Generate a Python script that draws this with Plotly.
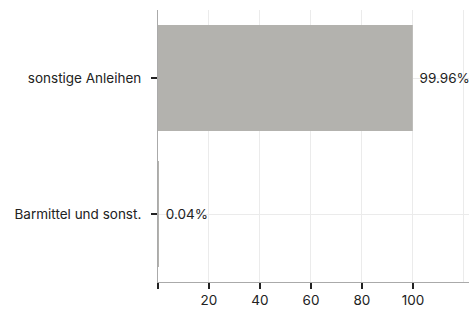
import plotly.graph_objects as go

categories = ["Barmittel und sonst.", "sonstige Anleihen"]
values = [0.04, 99.96]
tick_vals = [0, 20, 40, 60, 80, 100]
tick_text = ["", "20", "40", "60", "80", "100"]

fig = go.Figure(go.Bar(
    y=categories, x=values, orientation="h",
    marker=dict(color="#b3b2ae", line=dict(width=0)),
    width=0.78,
    text=values, texttemplate="\u00a0%{x:.2f}%", textposition="outside",
    textfont=dict(color="#222222", size=13.5),
    cliponaxis=False,
))

fig.update_layout(
    width=469, height=312,
    margin=dict(l=158, r=0, t=10, b=30, autoexpand=False),
    plot_bgcolor="white", paper_bgcolor="white",
    font=dict(family="Inter", size=13.5, color="#222222"),
    showlegend=False,
)
fig.update_xaxes(
    range=[0, 122], tickvals=tick_vals, ticktext=tick_text,
    showgrid=True, gridcolor="#ebebeb", gridwidth=1,
    showline=True, linecolor="#aaaaaa", linewidth=1,
    ticks="outside", ticklen=6, tickcolor="#222222", tickwidth=2,
    zeroline=False, automargin=False,
    minor=dict(tickvals=[120], showgrid=True, gridcolor="#ebebeb", ticklen=0),
)
fig.update_yaxes(
    range=[-0.5, 1.5], automargin=False,
    showgrid=True, gridcolor="#ebebeb",
    showline=True, linecolor="#aaaaaa", linewidth=1,
    ticks="outside", ticklen=6, tickcolor="#222222", tickwidth=2,
    ticklabelstandoff=7,
)

fig.write_html("out.html", config={"displayModeBar": False},
               post_script="document.body.style.margin='0';")
